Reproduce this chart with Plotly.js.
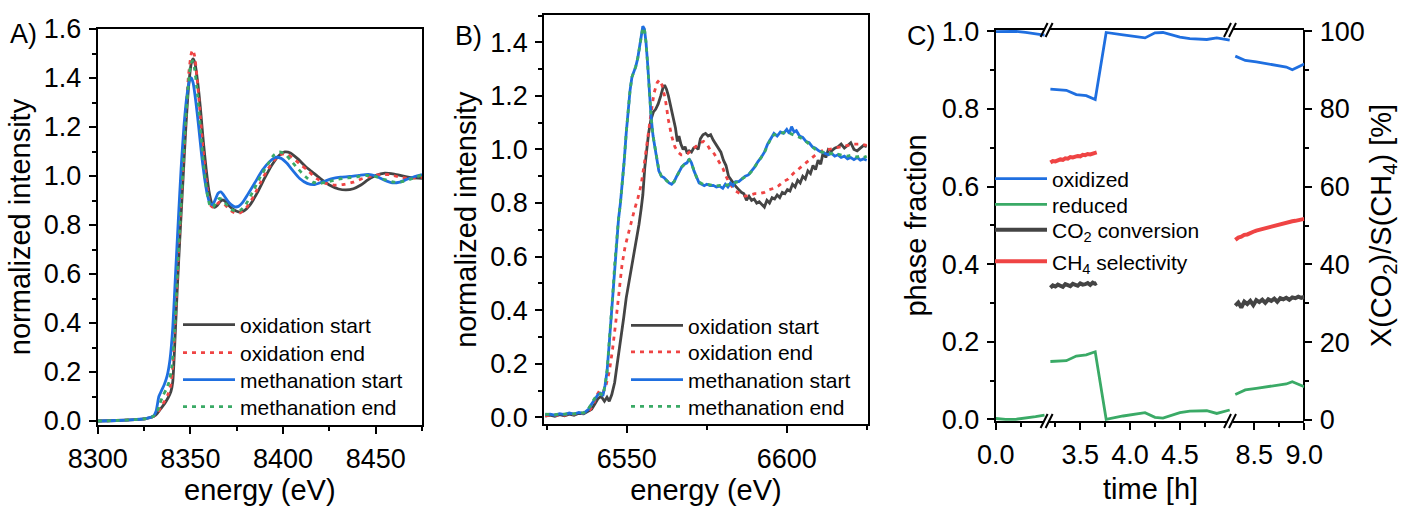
<!DOCTYPE html>
<html><head><meta charset="utf-8">
<script src="https://cdn.plot.ly/plotly-3.0.1.min.js"></script>
<style>html,body{margin:0;padding:0;background:#fff;}#chart{width:1403px;height:506px;}</style>
</head><body><div id="chart"></div>
<script>
// ---------- Panel A: Ni K-edge ----------
const aOxStartE = [8300,8310,8320,8326,8330,8332,8334,8336,8338,8339.5,8340.5,8341.5,8343,8344.5,8346,8347.5,8349,8350.5,8351.5,8352.5,8354,8355.5,8357,8358.5,8360,8361.5,8363,8364.5,8366,8367.5,8369,8371,8373,8375,8377,8379,8382,8386,8390,8394,8398,8401,8404,8408,8412,8416,8420,8425,8430,8434,8438,8442,8446,8450,8455,8460,8465,8470,8475];
const aOxStartV = [0.0,0.002,0.006,0.01,0.018,0.03,0.05,0.07,0.095,0.12,0.16,0.3,0.55,0.77,0.98,1.19,1.36,1.46,1.478,1.46,1.38,1.27,1.14,1.03,0.94,0.89,0.872,0.88,0.895,0.902,0.895,0.878,0.865,0.856,0.853,0.858,0.88,0.93,0.99,1.045,1.085,1.098,1.094,1.07,1.04,1.015,0.99,0.963,0.947,0.943,0.948,0.963,0.985,1.002,1.012,1.008,1.0,0.993,0.99];
const aOxEndE = [8300,8310,8320,8326,8330,8332,8334,8336,8338,8339.5,8340.5,8341.5,8343,8344.5,8346,8347.5,8349,8350.5,8351.3,8352.3,8353.5,8355,8356.5,8358,8359.5,8361,8362.5,8364,8365.5,8367,8369,8371,8373,8375,8377,8380,8384,8388,8392,8396,8399,8402,8405,8409,8413,8418,8423,8428,8433,8438,8443,8448,8453,8458,8463,8468,8475];
const aOxEndV = [0.0,0.002,0.006,0.01,0.018,0.03,0.055,0.08,0.11,0.15,0.22,0.36,0.6,0.82,1.03,1.24,1.41,1.5,1.515,1.49,1.41,1.28,1.14,1.02,0.93,0.88,0.872,0.882,0.893,0.893,0.88,0.865,0.853,0.847,0.85,0.868,0.915,0.975,1.03,1.07,1.088,1.09,1.075,1.05,1.025,0.99,0.97,0.963,0.966,0.975,0.99,1.0,1.006,1.005,0.995,0.99,0.995];
const aMeStartE = [8300,8310,8320,8326,8330,8331.5,8333,8334.5,8336,8337.5,8339,8340.5,8342,8343.5,8345,8346.5,8348,8349.5,8350.5,8351.5,8353,8354.5,8356,8357.5,8359,8360.5,8362,8363.5,8365,8366.5,8368,8370,8372,8374,8376,8378,8381,8385,8389,8393,8396,8399,8402,8405,8409,8413,8417,8421,8426,8431,8436,8441,8446,8450,8455,8459,8463,8467,8471,8475];
const aMeStartV = [0.0,0.002,0.006,0.01,0.02,0.04,0.1,0.125,0.15,0.185,0.25,0.38,0.6,0.82,1.03,1.2,1.32,1.39,1.4,1.38,1.3,1.2,1.09,1.0,0.93,0.89,0.882,0.905,0.93,0.935,0.922,0.9,0.883,0.874,0.876,0.89,0.925,0.975,1.025,1.06,1.076,1.072,1.053,1.025,0.99,0.97,0.965,0.975,0.988,0.995,0.998,1.003,1.007,1.0,0.982,0.972,0.975,0.987,0.998,1.006];
const aMeEndE = [8300,8310,8320,8326,8330,8332,8333.5,8335,8337,8338.5,8340,8341.5,8343,8344.5,8346,8347.5,8349,8350.3,8351.2,8352.2,8353.5,8355,8356.5,8358,8359.5,8361,8362.5,8364,8365.5,8367,8369,8371,8373,8375,8377,8380,8384,8388,8392,8395,8398,8401,8404,8408,8412,8416,8420,8425,8430,8435,8440,8445,8450,8455,8460,8465,8470,8475];
const aMeEndV = [0.0,0.002,0.006,0.01,0.019,0.035,0.07,0.1,0.13,0.16,0.22,0.37,0.6,0.82,1.03,1.23,1.38,1.46,1.47,1.44,1.36,1.23,1.1,0.99,0.91,0.872,0.875,0.895,0.908,0.905,0.888,0.872,0.86,0.856,0.86,0.885,0.94,1.0,1.05,1.085,1.098,1.09,1.065,1.03,0.998,0.975,0.97,0.978,0.987,0.992,0.997,1.002,0.997,0.985,0.975,0.978,0.99,1.005];

// ---------- Panel B: Fe K-edge ----------
const bOxStartE = [6524.5,6526,6527.5,6529,6530.5,6532,6533.5,6535,6536.5,6538,6539,6540,6541,6542,6543,6543.8,6544.5,6545.3,6546.2,6547,6548,6549,6549.8,6550.6,6551.4,6552.2,6553,6553.8,6554.5,6555,6555.6,6556.2,6556.8,6557.5,6558.3,6559,6559.8,6560.6,6561.3,6561.8,6562.4,6563,6563.8,6564.5,6565.2,6565.8,6566.3,6566.9,6567.6,6568.2,6568.9,6569.5,6570.2,6570.9,6571.6,6572.3,6573,6573.8,6574.6,6575.4,6576.2,6577,6577.8,6578.6,6579.4,6580.2,6581,6581.8,6582.6,6583.4,6584.2,6585,6585.8,6586.6,6587.4,6588.2,6589,6589.8,6590.6,6591.4,6592.2,6593,6593.8,6594.6,6595.4,6596.2,6597,6597.8,6598.6,6599.4,6600.2,6601,6601.8,6602.6,6603.4,6604.2,6605,6605.8,6606.6,6607.4,6608.2,6609,6609.8,6610.6,6611.4,6612.2,6613,6614,6615,6616,6617,6618,6619,6620,6621,6622,6623,6624,6625];
const bOxStartV = [0.005,0.008,0.004,0.01,0.006,0.012,0.008,0.015,0.013,0.022,0.03,0.05,0.07,0.078,0.06,0.075,0.06,0.085,0.13,0.2,0.28,0.37,0.445,0.5,0.56,0.61,0.66,0.72,0.78,0.83,0.93,1.0,1.06,1.11,1.14,1.15,1.17,1.2,1.23,1.24,1.225,1.2,1.16,1.12,1.08,1.03,1.05,1.02,1.0,1.01,0.985,0.995,0.99,1.005,1.01,1.0,1.04,1.055,1.06,1.05,1.055,1.035,1.02,1.0,0.99,0.96,0.94,0.9,0.885,0.87,0.86,0.85,0.84,0.835,0.81,0.825,0.81,0.815,0.8,0.805,0.795,0.785,0.81,0.8,0.82,0.815,0.83,0.82,0.84,0.835,0.85,0.845,0.87,0.86,0.885,0.875,0.9,0.89,0.92,0.91,0.94,0.925,0.96,0.945,0.99,0.97,1.0,0.995,1.005,1.01,1.02,1.005,1.015,1.025,1.0,0.995,1.005,1.015,1.01];
const bOxEndE = [6524.5,6527,6530,6533,6536,6538,6539.5,6540.5,6541.5,6542.5,6543.5,6544.5,6545.5,6546.5,6547.5,6548.5,6549.5,6550.5,6551.5,6552.5,6553.5,6554.5,6555.5,6556.5,6557.5,6558.5,6559.5,6560.2,6561,6562,6563,6564,6565,6566,6567,6568,6569,6570,6571,6572,6573,6574,6575,6576,6577,6578,6579,6580,6581,6582,6583,6584,6585.5,6587,6588.5,6590,6591.5,6593,6594.5,6596,6597.5,6599,6600.5,6602,6603.5,6605,6606.5,6608,6609.5,6611,6613,6615,6617,6619,6621,6623,6625];
const bOxEndV = [0.006,0.008,0.007,0.01,0.015,0.02,0.045,0.08,0.1,0.09,0.12,0.17,0.25,0.35,0.46,0.57,0.64,0.69,0.74,0.78,0.82,0.87,0.95,1.05,1.13,1.21,1.25,1.26,1.24,1.19,1.11,1.05,1.01,0.99,0.98,0.98,0.985,0.995,1.005,1.015,1.025,1.03,1.02,1.0,0.99,0.97,0.95,0.93,0.9,0.875,0.86,0.845,0.835,0.825,0.83,0.835,0.835,0.84,0.85,0.855,0.865,0.88,0.89,0.91,0.925,0.94,0.955,0.97,0.985,0.995,1.0,1.005,1.01,1.015,1.02,1.02,1.015];
const bMeStartE = [6524.5,6526,6527.5,6529,6530.5,6532,6533.5,6535,6536.5,6538,6539,6540,6541,6541.8,6542.5,6543.2,6543.8,6544.4,6545,6545.6,6546.2,6546.8,6547.4,6548,6548.6,6549.2,6549.8,6550.4,6551,6551.6,6552.2,6552.8,6553.4,6554,6554.6,6555,6555.5,6556,6556.5,6557,6557.6,6558.2,6558.8,6559.4,6560,6560.8,6561.6,6562.4,6563.2,6564,6564.8,6565.6,6566.4,6567.2,6568,6568.8,6569.5,6570.2,6571,6571.8,6572.6,6573.4,6574.2,6575,6576,6577,6578,6579,6580,6580.8,6581.6,6582.4,6583.2,6584,6585,6586,6587,6588,6589,6590,6591,6592,6593,6594,6595,6596,6597,6598,6599,6600,6600.8,6601.5,6602.3,6603,6604,6605,6606,6607,6608,6609,6610,6611,6612,6613,6614,6615,6616,6617,6618,6619,6620,6621,6622,6623,6624,6625];
const bMeStartV = [0.01,0.012,0.008,0.014,0.01,0.016,0.012,0.018,0.015,0.03,0.05,0.07,0.085,0.09,0.08,0.12,0.17,0.26,0.36,0.46,0.57,0.66,0.74,0.8,0.87,0.96,1.06,1.15,1.22,1.27,1.29,1.31,1.34,1.38,1.43,1.46,1.45,1.4,1.32,1.22,1.12,1.05,1.01,0.96,0.92,0.9,0.895,0.885,0.875,0.87,0.88,0.9,0.92,0.935,0.945,0.95,0.965,0.95,0.92,0.895,0.875,0.87,0.865,0.87,0.865,0.866,0.86,0.863,0.855,0.87,0.86,0.875,0.865,0.88,0.88,0.89,0.9,0.905,0.92,0.935,0.955,0.97,0.99,1.02,1.04,1.06,1.05,1.065,1.06,1.075,1.06,1.085,1.065,1.07,1.05,1.045,1.03,1.025,1.01,1.005,0.995,0.99,0.985,0.98,0.985,0.975,0.98,0.97,0.975,0.965,0.97,0.962,0.97,0.96,0.965,0.96];
const bMeEndE = [6524.5,6526,6527.5,6529,6530.5,6532,6533.5,6535,6536.5,6538,6539,6540,6541,6541.8,6542.5,6543.2,6543.8,6544.4,6545,6545.6,6546.2,6546.8,6547.4,6548,6548.6,6549.2,6549.8,6550.4,6551,6551.6,6552.2,6552.8,6553.4,6554,6554.6,6555,6555.5,6556,6556.5,6557,6557.6,6558.2,6558.8,6559.4,6560,6560.8,6561.6,6562.4,6563.2,6564,6564.8,6565.6,6566.4,6567.2,6568,6568.8,6569.5,6570.2,6571,6571.8,6572.6,6573.4,6574.2,6575,6576,6577,6578,6579,6580,6581,6582,6583,6584,6585,6586,6587,6588,6589,6590,6591,6592,6593,6594,6595,6596,6597,6598,6599,6600,6601,6602,6603,6604,6605,6606,6607,6608,6609,6610,6611,6612,6613,6614,6615,6616,6617,6618,6619,6620,6621,6622,6623,6624,6625];
const bMeEndV = [0.012,0.01,0.01,0.012,0.012,0.014,0.013,0.016,0.017,0.032,0.052,0.072,0.086,0.088,0.082,0.12,0.17,0.26,0.36,0.46,0.57,0.66,0.74,0.8,0.87,0.96,1.06,1.15,1.22,1.27,1.29,1.31,1.34,1.38,1.43,1.455,1.45,1.4,1.32,1.22,1.12,1.05,1.005,0.96,0.925,0.9,0.892,0.886,0.876,0.872,0.88,0.9,0.918,0.935,0.944,0.952,0.962,0.948,0.922,0.896,0.878,0.872,0.868,0.87,0.868,0.868,0.864,0.866,0.862,0.866,0.87,0.872,0.876,0.88,0.89,0.898,0.905,0.918,0.935,0.953,0.968,0.988,1.015,1.04,1.055,1.058,1.06,1.062,1.065,1.06,1.055,1.05,1.045,1.04,1.03,1.02,1.01,1.0,0.995,0.99,0.99,0.985,0.985,0.98,0.982,0.98,0.978,0.975,0.978,0.975,0.972,0.975,0.97,0.975,0.97,0.972];

// ---------- Panel C: phase fractions and catalytic performance ----------
const cTime1 = [0, 0.1, 0.2, 0.3, 0.4, 0.49];
const cTime2 = [3.2, 3.36, 3.46, 3.56, 3.65, 3.76, 3.93, 4.15, 4.25, 4.33, 4.5, 4.6, 4.77, 4.87, 5.0];
const cTime3 = [8.31, 8.41, 8.52, 8.69, 8.82, 8.88, 9.0];
const oxidized1 = [0.999, 1.0, 1.0, 0.997, 0.993, 0.99];
const oxidized2 = [0.851, 0.848, 0.837, 0.834, 0.824, 0.997, 0.991, 0.983, 0.996, 0.997, 0.985, 0.981, 0.979, 0.983, 0.977];
const oxidized3 = [0.936, 0.925, 0.921, 0.914, 0.908, 0.901, 0.916];
const reduced1 = [0.002, 0.0, 0.0, 0.003, 0.007, 0.011];
const reduced2 = [0.149, 0.151, 0.163, 0.166, 0.174, 0.0, 0.0085, 0.017, 0.005, 0.003, 0.017, 0.021, 0.022, 0.015, 0.024];
const reduced3 = [0.064, 0.0756, 0.08, 0.086, 0.091, 0.097, 0.084];
const perfTime2 = [3.2,3.225,3.25,3.275,3.3,3.325,3.35,3.375,3.4,3.425,3.45,3.475,3.5,3.525,3.55,3.575,3.6,3.625,3.65,3.665];
const perfTime3 = [8.31,8.34,8.37,8.4,8.43,8.46,8.49,8.52,8.55,8.58,8.61,8.64,8.67,8.7,8.73,8.76,8.79,8.82,8.85,8.88,8.91,8.94,8.97,9.0];
const co2Conv2 = [34.0,34.6,34.3,34.8,34.5,34.2,34.9,34.6,34.4,35.0,34.7,34.5,35.1,34.8,34.9,35.2,34.7,35.3,35.0,35.2];
const co2Conv3 = [29.4,30.2,28.9,30.4,29.8,30.6,29.5,30.8,30.3,30.9,30.1,31.0,30.6,31.2,30.4,31.3,31.0,31.4,30.9,31.5,31.3,31.7,31.4,31.6];
const ch4Sel2 = [66.2,66.6,66.5,66.9,67.0,66.9,67.3,67.2,67.6,67.5,67.8,67.9,67.8,68.2,68.1,68.4,68.3,68.6,68.7,68.8];
const ch4Sel3 = [46.3,46.9,47.1,47.6,47.7,48.2,48.4,48.7,48.9,49.2,49.4,49.6,49.9,50.0,50.3,50.4,50.6,50.8,50.9,51.1,51.2,51.4,51.5,51.7];

const spectraNames = ['oxidation start', 'oxidation end', 'methanation start', 'methanation end'];
const cNames = ['oxidized', 'reduced', 'CO<sub>2</sub> conversion', 'CH<sub>4</sub> selectivity'];

// ---------- styling ----------
const F = 'Arial, "Liberation Sans", sans-serif';
const GRAY = '#444444', RED = '#ef4444', BLUE = '#1f6fe0', GREEN = '#3aaa66';
const W = 1403, H = 506;
const px = x => x / W, py = y => 1 - y / H;

function axis(o) {
  const a = {
    showline: true, linecolor: '#000', linewidth: 2, mirror: o.mirror === undefined ? true : o.mirror,
    ticks: 'outside', ticklen: 7, tickwidth: 2, tickcolor: '#000',
    showgrid: false, zeroline: false, fixedrange: true,
    tickfont: {family: F, size: 27, color: '#000'}, ticklabelstandoff: 2,
    domain: o.domain, range: o.range, anchor: o.anchor,
    minor: {ticks: 'outside', ticklen: 4, tickwidth: 2, tickcolor: '#000', showgrid: false}
  };
  if (o.tickvals) { a.tickmode = 'array'; a.tickvals = o.tickvals; a.minor.tickmode = 'array'; a.minor.tickvals = o.minorvals; }
  else { a.tickmode = 'linear'; a.tick0 = o.tick0; a.dtick = o.dtick; a.minor.dtick = o.minorDtick; }
  if (o.tickformat) a.tickformat = o.tickformat;
  if (o.title) a.title = {text: o.title, font: {family: F, size: 29, color: '#000'}, standoff: o.standoff || 4};
  if (o.side) a.side = o.side;
  if (o.overlaying) a.overlaying = o.overlaying;
  if (o.position !== undefined) a.position = o.position;
  return a;
}

// one legend box per entry so each entry sits where the reference shows it
const legendBase = {bgcolor: 'rgba(0,0,0,0)', borderwidth: 0, font: {family: F, size: 21, color: '#000'},
  xanchor: 'left', yanchor: 'top', itemwidth: 52, tracegroupgap: 0};
const legendBoxes = {};
let legendCount = 0;
function newLegend(xLeft, yCenter) {
  legendCount += 1;
  const id = legendCount === 1 ? 'legend' : 'legend' + legendCount;
  legendBoxes[id] = Object.assign({}, legendBase, {x: px(xLeft), y: py(yCenter - 20.5)});
  return id;
}

const traces = [];
function spec(x, y, name, color, dotted, xa, ya, leg, shape) {
  traces.push({type: 'scatter', mode: 'lines', x: x, y: y, name: name, xaxis: xa, yaxis: ya, legend: leg,
    line: {color: color, width: 2.8, dash: dotted ? '4px,5px' : 'solid', shape: shape || 'linear', smoothing: 0.6},
    hoverinfo: 'skip'});
}
const aLegY = [325, 353, 380, 407];
const bLegY = [325.7, 352.3, 380, 406.7];
spec(aOxStartE, aOxStartV, spectraNames[0], GRAY, false, 'x', 'y', newLegend(178, aLegY[0]), 'spline');
spec(aOxEndE, aOxEndV, spectraNames[1], RED, true, 'x', 'y', newLegend(178, aLegY[1]), 'spline');
spec(aMeStartE, aMeStartV, spectraNames[2], BLUE, false, 'x', 'y', newLegend(178, aLegY[2]), 'spline');
spec(aMeEndE, aMeEndV, spectraNames[3], GREEN, true, 'x', 'y', newLegend(178, aLegY[3]), 'spline');
spec(bOxStartE, bOxStartV, spectraNames[0], GRAY, false, 'x2', 'y2', newLegend(626, bLegY[0]));
spec(bOxEndE, bOxEndV, spectraNames[1], RED, true, 'x2', 'y2', newLegend(626, bLegY[1]));
spec(bMeStartE, bMeStartV, spectraNames[2], BLUE, false, 'x2', 'y2', newLegend(626, bLegY[2]));
spec(bMeEndE, bMeEndV, spectraNames[3], GREEN, true, 'x2', 'y2', newLegend(626, bLegY[3]));

const cLegY = [179, 204.7, 230, 261.7];
const cLeg = cLegY.map(y => newLegend(990, y));
function cl(x, y, name, color, width, xa, ya, leg, show) {
  traces.push({type: 'scatter', mode: 'lines', x: x, y: y, name: name, xaxis: xa, yaxis: ya,
    legend: leg, legendgroup: name, showlegend: show,
    line: {color: color, width: width}, hoverinfo: 'skip'});
}
cl(cTime1, oxidized1, cNames[0], BLUE, 2.8, 'x3', 'y3', cLeg[0], true);
cl(cTime2, oxidized2, cNames[0], BLUE, 2.8, 'x4', 'y3', cLeg[0], false);
cl(cTime3, oxidized3, cNames[0], BLUE, 2.8, 'x5', 'y3', cLeg[0], false);
cl(cTime1, reduced1, cNames[1], GREEN, 2.8, 'x3', 'y3', cLeg[1], true);
cl(cTime2, reduced2, cNames[1], GREEN, 2.8, 'x4', 'y3', cLeg[1], false);
cl(cTime3, reduced3, cNames[1], GREEN, 2.8, 'x5', 'y3', cLeg[1], false);
cl(perfTime2, co2Conv2, cNames[2], GRAY, 4, 'x4', 'y4', cLeg[2], true);
cl(perfTime3, co2Conv3, cNames[2], GRAY, 4, 'x5', 'y4', cLeg[2], false);
cl(perfTime2, ch4Sel2, cNames[3], RED, 4, 'x4', 'y4', cLeg[3], true);
cl(perfTime3, ch4Sel3, cNames[3], RED, 4, 'x5', 'y4', cLeg[3], false);

// panel geometry (pixels)
const A = {l: 97.7, r: 422, t: 29, b: 425};
const B = {l: 544.3, r: 867.7, t: 15, b: 424.3};
const C = {l: 995.7, r: 1304.3, t: 30, b: 421, b1: 1046.6, b2: 1230};

const layout = Object.assign({
  width: W, height: H, margin: {l: 0, r: 0, t: 0, b: 0},
  paper_bgcolor: '#fff', plot_bgcolor: 'rgba(0,0,0,0)', font: {family: F, color: '#000'},
  showlegend: true,
  xaxis: axis({domain: [px(A.l), px(A.r)], range: [8300, 8475], anchor: 'y', tick0: 8300, dtick: 50, minorDtick: 25, title: 'energy (eV)', standoff: 6}),
  yaxis: axis({domain: [py(A.b), py(A.t)], range: [-0.0163, 1.6], anchor: 'x', tick0: 0, dtick: 0.2, minorDtick: 0.1, tickformat: '.1f', title: 'normalized intensity', standoff: 5}),
  xaxis2: axis({domain: [px(B.l), px(B.r)], range: [6524.2, 6625.3], anchor: 'y2', tick0: 6550, dtick: 50, minorDtick: 25, title: 'energy (eV)', standoff: 6}),
  yaxis2: axis({domain: [py(B.b), py(B.t)], range: [-0.026, 1.502], anchor: 'x2', tick0: 0, dtick: 0.2, minorDtick: 0.1, tickformat: '.1f', title: 'normalized intensity', standoff: 5}),
  xaxis3: axis({domain: [px(C.l), px(C.b1)], range: [0, 0.511], anchor: 'y3', tickvals: [0], minorvals: [0.25], tickformat: '.1f'}),
  xaxis4: axis({domain: [px(C.b1), px(C.b2)], range: [3.162, 5.003], anchor: 'y3', tickvals: [3.5, 4.0, 4.5], minorvals: [3.25, 3.75, 4.25, 4.75], tickformat: '.1f'}),
  xaxis5: axis({domain: [px(C.b2), px(C.r)], range: [8.257, 9.0], anchor: 'y3', tickvals: [8.5, 9.0], minorvals: [8.75], tickformat: '.1f'}),
  yaxis3: axis({domain: [py(C.b), py(C.t)], range: [-0.0044, 1.0034], anchor: 'x3', mirror: false, tick0: 0, dtick: 0.2, minorDtick: 0.1, tickformat: '.1f', title: 'phase fraction', standoff: 7}),
  yaxis4: axis({domain: [py(C.b), py(C.t)], range: [-0.3, 100.3], anchor: 'free', position: px(C.r), overlaying: 'y3', side: 'right', mirror: false, tick0: 0, dtick: 20, minorDtick: 10, title: 'X(CO<sub>2</sub>)/S(CH<sub>4</sub>) [%]', standoff: 6}),
  annotations: [
    {text: 'A)', x: px(8), y: py(34), xref: 'paper', yref: 'paper', xanchor: 'left', yanchor: 'middle', showarrow: false, font: {family: F, size: 27, color: '#000'}},
    {text: 'B)', x: px(453), y: py(36), xref: 'paper', yref: 'paper', xanchor: 'left', yanchor: 'middle', showarrow: false, font: {family: F, size: 27, color: '#000'}},
    {text: 'C)', x: px(905), y: py(36), xref: 'paper', yref: 'paper', xanchor: 'left', yanchor: 'middle', showarrow: false, font: {family: F, size: 27, color: '#000'}},
    {text: 'time [h]', x: px((C.l + C.r) / 2), y: py(489), xref: 'paper', yref: 'paper', xanchor: 'center', yanchor: 'middle', showarrow: false, font: {family: F, size: 29, color: '#000'}}
  ],
  shapes: []
}, legendBoxes);

// axis-break marks "//" on the top and bottom axis lines of panel C
[C.b1, C.b2].forEach(xb => {
  [C.t, C.b].forEach(yb => {
    layout.shapes.push({type: 'line', xref: 'paper', yref: 'paper', x0: px(xb - 2.5), x1: px(xb + 2.5), y0: py(yb), y1: py(yb), line: {color: '#fff', width: 4}, layer: 'above'});
    [-2.5, 2.5].forEach(d => {
      layout.shapes.push({type: 'line', xref: 'paper', yref: 'paper', x0: px(xb + d - 3.5), y0: py(yb + 7), x1: px(xb + d + 3.5), y1: py(yb - 7), line: {color: '#000', width: 2}, layer: 'above'});
    });
  });
});

Plotly.newPlot('chart', traces, layout, {staticPlot: true, displayModeBar: false});
</script></body></html>
